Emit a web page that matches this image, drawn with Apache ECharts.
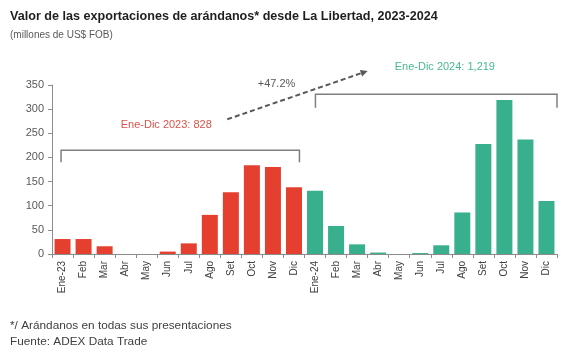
<!DOCTYPE html>
<html><head><meta charset="utf-8">
<script src="https://cdn.jsdelivr.net/npm/echarts@6/dist/echarts.min.js"></script>
<style>html,body{margin:0;padding:0;background:#fff}#c{width:578px;height:353px}</style>
</head><body><div id="c"></div>
<script>
var labels2023 = ['Ene-23','Feb','Mar','Abr','May','Jun','Jul','Ago','Set','Oct','Nov','Dic'];
var labels2024 = ['Ene-24','Feb','Mar','Abr','May','Jun','Jul','Ago','Set','Oct','Nov','Dic'];
var values2023 = [31, 31, 16, 0, 0, 5, 22, 81, 128, 184, 180, 138];
var values2024 = [131, 58, 20, 3, 0, 2, 18, 86, 228, 319, 237, 110];
var yTicks = [0, 50, 100, 150, 200, 250, 300, 350];
var color2023 = '#E53F30';
var color2024 = '#38B08D';
var total2023Label = 'Ene-Dic 2023: 828';
var total2024Label = 'Ene-Dic 2024: 1,219';
var growthLabel = '+47.2%';

var categories = labels2023.concat(labels2024);
var barData = values2023.map(function(v){return {value:v, itemStyle:{color:color2023}};})
  .concat(values2024.map(function(v){return {value:v, itemStyle:{color:color2024}};}));

var chart = echarts.init(document.getElementById('c'));
var font = 'Liberation Sans, Arial, sans-serif';
chart.setOption({
  animation: false,
  textStyle: {fontFamily: font},
  grid: {left: 52, right: 21, top: 85, bottom: 99},
  xAxis: {
    type: 'category', data: categories,
    axisLine: {lineStyle: {color: '#8c8c8c'}},
    axisTick: {show: true, alignWithLabel: false, interval: 0, length: 4, lineStyle: {color: '#8c8c8c'}},
    axisLabel: {rotate: 90, interval: 0, fontSize: 10, color: '#404040', margin: 7, fontFamily: font}
  },
  yAxis: {
    type: 'value', min: yTicks[0], max: yTicks[yTicks.length-1], interval: 50,
    axisLine: {show: true, lineStyle: {color: '#8c8c8c'}},
    axisTick: {show: true, length: 4, lineStyle: {color: '#8c8c8c'}},
    splitLine: {show: false},
    axisLabel: {fontSize: 11, color: '#595959', margin: 8, fontFamily: font}
  },
  series: [{type: 'bar', data: barData, barCategoryGap: '24%'}]
});

function P(idx, val) {
  var a = chart.convertToPixel({xAxisIndex:0, yAxisIndex:0}, [0, 0]);
  var b = chart.convertToPixel({xAxisIndex:0, yAxisIndex:0}, [1, 100]);
  var dx = b[0] - a[0], dy = (b[1] - a[1]) / 100;
  return [a[0] + idx*dx, a[1] + val*dy];
}
function bracket(i0, i1, top, bottom) {
  var p0 = P(i0, bottom), p1 = P(i0, top), p2 = P(i1, top), p3 = P(i1, bottom);
  return {type:'polyline', shape:{points:[p0,p1,p2,p3]}, style:{stroke:'#7f7f7f', lineWidth:1.5, fill:null}};
}
var b1 = bracket(-0.07, 11.26, 215, 190);
var b2 = bracket(12.02, 23.5, 331, 303);
var t1 = P(4.93, 267), t2 = P(18.17, 387), t3 = P(10.17, 352);
var a0 = P(7.83, 279), a1 = P(14.5, 379);
var ang = Math.atan2(a1[1]-a0[1], a1[0]-a0[0]);
var hl = 7, hw = 3.5;
var tip = a1;
var base = [tip[0]-hl*Math.cos(ang), tip[1]-hl*Math.sin(ang)];
var head = [[tip[0],tip[1]],[base[0]+hw*Math.sin(ang), base[1]-hw*Math.cos(ang)],[base[0]-hw*Math.sin(ang), base[1]+hw*Math.cos(ang)]];

chart.setOption({
  graphic: [
    {type:'text', left: 10, top: 10, style:{text:'Valor de las exportaciones de arándanos* desde La Libertad, 2023-2024', font:'bold 12.6px '+font, fill:'#1f1f1f'}},
    {type:'text', left: 10, top: 30, style:{text:'(millones de US$ FOB)', font:'10px '+font, fill:'#595959'}},
    {type:'text', left: 10, top: 320, style:{text:'*/ Arándanos en todas sus presentaciones', font:'11.8px '+font, fill:'#404040'}},
    {type:'text', left: 10, top: 336, style:{text:'Fuente: ADEX Data Trade', font:'11.8px '+font, fill:'#404040'}},
    b1, b2,
    {type:'text', x: t1[0], y: t1[1], style:{text: total2023Label, font:'11px '+font, fill:'#DA5248', align:'center', verticalAlign:'middle'}},
    {type:'text', x: t2[0], y: t2[1], style:{text: total2024Label, font:'11px '+font, fill:'#48B893', align:'center', verticalAlign:'middle'}},
    {type:'text', x: t3[0], y: t3[1], style:{text: growthLabel, font:'11px '+font, fill:'#595959', align:'center', verticalAlign:'middle'}},
    {type:'line', shape:{x1:a0[0], y1:a0[1], x2:base[0], y2:base[1]}, style:{stroke:'#595959', lineWidth:2, lineDash:[5,3]}},
    {type:'polygon', shape:{points: head}, style:{fill:'#595959'}}
  ]
});
</script></body></html>
